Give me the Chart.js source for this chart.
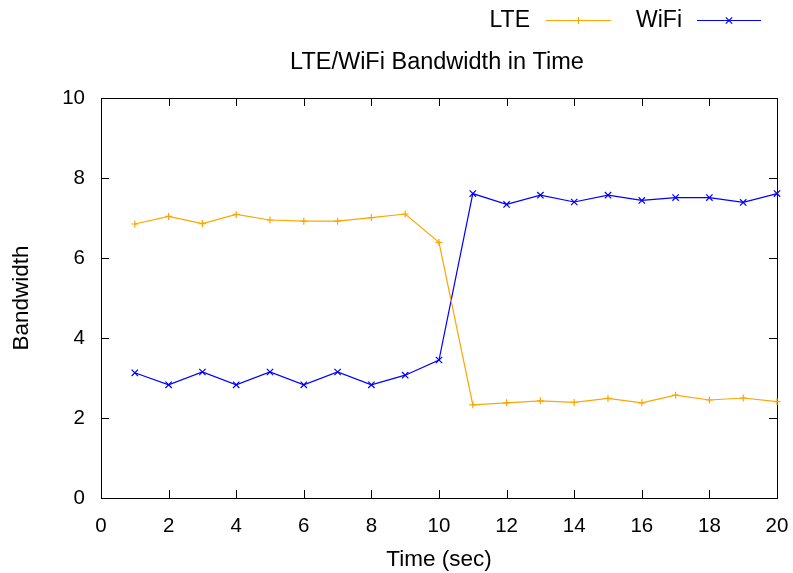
<!DOCTYPE html>
<html>
<head>
<meta charset="utf-8">
<script src="https://cdn.jsdelivr.net/npm/chart.js@4/dist/chart.umd.min.js"></script>
<style>
  html, body { margin: 0; padding: 0; background: #fff; }
  #wrap { width: 793px; height: 573px; position: relative; }
</style>
</head>
<body>
<div id="wrap"><canvas id="c" width="793" height="573"></canvas></div>
<script>
// ---- data ----
const times = [1, 2, 3, 4, 5, 6, 7, 8, 9, 10, 11, 12, 13, 14, 15, 16, 17, 18, 19, 20];
const lteValues  = [6.85, 7.04, 6.86, 7.09, 6.95, 6.92, 6.92, 7.01, 7.10, 6.39,
                    2.33, 2.38, 2.43, 2.39, 2.49, 2.38, 2.57, 2.45, 2.50, 2.41];
const wifiValues = [3.13, 2.83, 3.15, 2.83, 3.15, 2.83, 3.15, 2.83, 3.07, 3.45,
                    7.61, 7.34, 7.57, 7.40, 7.57, 7.44, 7.51, 7.51, 7.39, 7.61];
const seriesNames = ['LTE', 'WiFi'];
const chartTitle = 'LTE/WiFi Bandwidth in Time';
const xTitle = 'Time (sec)';
const yTitle = 'Bandwidth';
const xTicks = [0, 2, 4, 6, 8, 10, 12, 14, 16, 18, 20];
const yTicks = [0, 2, 4, 6, 8, 10];

const FONT = '"Liberation Sans", Arial, Helvetica, sans-serif';
const FS_TICK = 20.5;
const FS_AXIS = 22.5;
const FS_TITLE = 23.5;
const FS_LEGEND = 23;
const LTE_COLOR = '#FFA500';
const WIFI_COLOR = '#0000FF';

const toPts = (vals) => vals.map((v, i) => ({ x: times[i], y: v }));

const framePlugin = {
  id: 'frame',
  beforeDatasetsDraw(chart) {
    const { ctx, chartArea: a, scales: { x, y } } = chart;
    ctx.save();
    ctx.strokeStyle = '#000';
    ctx.lineWidth = 1;
    ctx.beginPath();
    const L = 8;
    xTicks.forEach(v => {
      const px = Math.round(x.getPixelForValue(v)) + 0.5;
      ctx.moveTo(px, a.bottom); ctx.lineTo(px, a.bottom - L);
      ctx.moveTo(px, a.top); ctx.lineTo(px, a.top + L);
    });
    yTicks.forEach(v => {
      const py = Math.round(y.getPixelForValue(v)) + 0.5;
      ctx.moveTo(a.left, py); ctx.lineTo(a.left + L, py);
      ctx.moveTo(a.right, py); ctx.lineTo(a.right - L, py);
    });
    ctx.stroke();
    ctx.strokeRect(Math.round(a.left) + 0.5, Math.round(a.top) + 0.5,
                   Math.round(a.right - a.left), Math.round(a.bottom - a.top));
    ctx.restore();
  },
  afterDraw(chart) {
    const { ctx } = chart;
    ctx.save();
    ctx.fillStyle = '#000';
    ctx.textBaseline = 'middle';
    // title
    ctx.font = FS_TITLE + 'px ' + FONT;
    ctx.textAlign = 'center';
    ctx.fillText(chartTitle, 437, 63);
    // legend
    ctx.font = FS_LEGEND + 'px ' + FONT;
    const items = [
      { name: seriesNames[0], textRight: 530, x0: 546, x1: 611, color: LTE_COLOR, style: 'cross' },
      { name: seriesNames[1], textRight: 682, x0: 697, x1: 761, color: WIFI_COLOR, style: 'crossRot' }
    ];
    items.forEach(it => {
      ctx.textAlign = 'right';
      ctx.fillStyle = '#000';
      ctx.fillText(it.name, it.textRight, 21);
      ctx.strokeStyle = it.color;
      ctx.lineWidth = 1.2;
      ctx.beginPath();
      ctx.moveTo(it.x0, 20.5); ctx.lineTo(it.x1, 20.5);
      ctx.stroke();
      Chart.helpers.drawPoint(ctx, {
        pointStyle: it.style, radius: it.style === 'cross' ? 3.5 : 4.5,
        borderWidth: 1.2, rotation: 0
      }, (it.x0 + it.x1) / 2, 20.5);
    });
    ctx.restore();
  }
};

new Chart(document.getElementById('c'), {
  type: 'scatter',
  data: {
    datasets: [
      {
        label: seriesNames[0],
        data: toPts(lteValues),
        showLine: true,
        borderColor: LTE_COLOR,
        backgroundColor: LTE_COLOR,
        borderWidth: 1.2,
        pointStyle: 'cross',
        pointRadius: 3.5,
        pointBorderWidth: 1.2,
        pointHoverRadius: 3.5,
        tension: 0,
        clip: false
      },
      {
        label: seriesNames[1],
        data: toPts(wifiValues),
        showLine: true,
        borderColor: WIFI_COLOR,
        backgroundColor: WIFI_COLOR,
        borderWidth: 1.2,
        pointStyle: 'crossRot',
        pointRadius: 4.5,
        pointBorderWidth: 1.2,
        pointHoverRadius: 4.5,
        tension: 0,
        clip: false
      }
    ]
  },
  options: {
    responsive: false,
    animation: false,
    events: [],
    layout: { padding: { top: 98, right: 16, left: 0, bottom: 0 } },
    plugins: {
      legend: { display: false },
      title: { display: false },
      tooltip: { enabled: false }
    },
    scales: {
      x: {
        type: 'linear',
        min: 0, max: 20,
        afterBuildTicks: (s) => { s.ticks = xTicks.map(v => ({ value: v })); },
        afterFit: (s) => { s.height = 75; s.paddingLeft = 0; s.paddingRight = 0; },
        grid: { display: false, drawTicks: false },
        border: { display: false },
        ticks: { color: '#000', font: { family: FONT, size: FS_TICK }, padding: 16, maxRotation: 0, autoSkip: false },
        title: { display: true, text: xTitle, color: '#000', font: { family: FONT, size: FS_AXIS }, padding: { top: 0, bottom: 0 } }
      },
      y: {
        type: 'linear',
        min: 0, max: 10,
        afterBuildTicks: (s) => { s.ticks = yTicks.map(v => ({ value: v })); },
        afterFit: (s) => { s.width = 101; s.paddingTop = 0; s.paddingBottom = 0; },
        grid: { display: false, drawTicks: false },
        border: { display: false },
        ticks: { color: '#000', font: { family: FONT, size: FS_TICK }, padding: 16 },
        title: { display: true, text: yTitle, color: '#000', font: { family: FONT, size: FS_AXIS }, padding: { top: 8, bottom: 0 } }
      }
    }
  },
  plugins: [framePlugin]
});
</script>
</body>
</html>
